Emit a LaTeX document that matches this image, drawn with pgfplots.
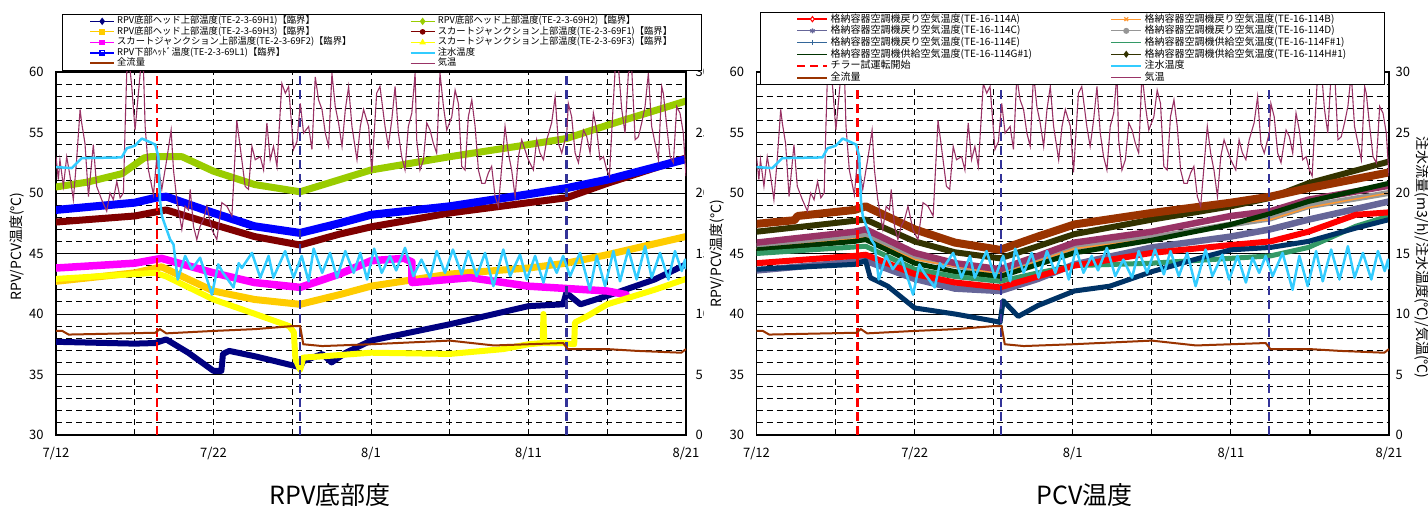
\documentclass[border=0pt]{standalone}
\usepackage{fontspec}
\setmainfont{Noto Sans CJK JP}
\usepackage{pgfplots}
\usepackage{pgfplotstable}
\pgfplotsset{compat=1.18}

\definecolor{cH1}{HTML}{000080}
\definecolor{cH2}{HTML}{99CC00}
\definecolor{cH3}{HTML}{FFCC00}
\definecolor{cF1}{HTML}{800000}
\definecolor{cF2}{HTML}{FF00FF}
\definecolor{cF3}{HTML}{FFFF00}
\definecolor{cL1}{HTML}{0000FF}
\definecolor{cInj}{HTML}{33CCFF}
\definecolor{cFlow}{HTML}{993300}
\definecolor{cAir}{HTML}{993366}
\definecolor{cDash}{HTML}{333399}
\definecolor{cA}{HTML}{FF0000}
\definecolor{cB}{HTML}{FF9933}
\definecolor{cC}{HTML}{666699}
\definecolor{cD}{HTML}{969696}
\definecolor{cE}{HTML}{003366}
\definecolor{cEl}{HTML}{336699}
\definecolor{cF}{HTML}{339966}
\definecolor{cG}{HTML}{003300}
\definecolor{cH}{HTML}{333300}
\definecolor{cRust}{HTML}{993300}
\definecolor{cMauve}{HTML}{993366}

% shared right-axis series (day from 7/12, value)
\pgfplotstableread{
d v
0 23.0
0.15 21.1
0.25 22.75
0.47 20.55
0.68 23.0
0.89 21.4
1.10 19.45
1.31 22.75
1.53 26.9
1.63 25.8
1.84 24.1
1.95 21.9
2.06 19.7
2.37 24.0
2.58 20.55
2.90 19.45
3.22 18.5
3.43 20.0
3.64 19.45
3.86 20.95
4.07 19.6
4.28 20.0
4.39 25.5
4.49 29.9
4.64 31
4.81 28.8
5.02 25.2
5.23 28.2
5.38 30.4
5.55 30.4
5.66 25.5
5.87 21.9
6.19 19.85
6.40 23.0
6.72 20.3
7.03 22.75
7.31 25.2
7.46 21.9
7.67 19.45
7.99 17.0
8.20 18.9
8.41 18.6
8.52 20.3
8.73 17.25
8.94 16.15
9.15 17.25
9.36 17.8
9.58 18.9
9.89 17.0
10.21 16.15
10.53 19.2
10.85 18.9
11.17 18.1
11.48 26.0
11.69 23.85
12.01 20.55
12.22 20.3
12.44 23.85
12.65 22.75
12.97 23.0
13.18 21.9
13.39 25.8
13.60 22.75
13.81 23.85
14.03 22.2
14.34 29.05
14.56 28.25
14.77 28.8
15.08 23.6
15.30 24.25
15.51 27.4
15.72 24.95
16.04 25.5
16.25 23.6
16.46 29.6
16.67 27.7
16.89 26.9
17.10 24.95
17.31 23.85
17.52 29.9
17.73 27.15
17.94 25.8
18.16 23.85
18.37 26.9
18.58 28.8
18.79 25.5
19.11 22.75
19.32 25.5
19.53 26.9
19.85 25.5
20.05 21.7
20.36 28.25
20.57 28.8
20.89 25.5
21.10 23.85
21.32 26.05
21.53 28.8
21.74 24.95
21.95 23.0
22.16 21.9
22.37 25.5
22.59 26.6
22.80 29.9
22.90 24.4
23.11 21.9
23.33 22.75
23.54 25.8
23.75 25.2
23.96 24.1
24.17 23.3
24.38 29.9
24.60 27.15
24.81 25.2
25.13 26.3
25.34 28.5
25.55 27.4
25.76 22.2
25.97 21.9
26.18 26.3
26.40 27.7
26.61 25.5
26.82 21.9
27.03 20.8
27.24 20.8
27.45 21.65
27.66 22.2
27.88 19.7
28.09 18.9
28.30 22.2
28.51 25.5
28.72 23.3
28.93 21.9
29.15 19.7
29.36 23.0
29.57 24.4
29.78 23.55
29.99 22.75
30.31 21.9
30.52 24.4
30.73 23.3
30.95 22.75
31.16 24.4
31.47 25.8
31.69 27.95
31.90 24.1
32.11 23.3
32.43 24.95
32.53 27.4
32.74 26.3
32.96 23.3
33.17 22.5
33.49 25.2
33.70 24.65
33.91 23.3
34.12 26.6
34.33 25.2
34.54 22.75
34.76 23.0
34.97 21.9
35.14 21.4
35.28 24.95
35.50 30.2
35.71 30.4
35.92 26.9
36.13 24.95
36.34 29.9
36.55 30.4
36.77 24.4
36.98 24.65
37.19 25.8
37.40 27.15
37.61 29.9
37.82 25.5
38.04 24.1
38.25 22.75
38.46 28.8
38.56 28.25
38.78 25.5
38.99 23.0
39.20 22.5
39.41 27.15
39.62 26.6
39.83 24.95
40.00 21.4
}\airtemp

\pgfplotstableread{
d v
0 22.14
1.0 22.06
1.63 22.88
4.17 22.94
4.5 23.7
5.0 23.9
5.45 24.5
5.97 24.2
6.3 24.0
6.5 23.0
6.6 19.45
6.72 18.1
7.25 16.15
7.46 15.75
7.73 12.85
8.2 14.8
8.62 13.7
9.15 14.65
9.9 11.6
10.3 14.1
10.6 13.4
11.27 12.2
11.6 14.2
11.8 13.8
12.44 15.05
12.97 13.0
13.5 14.8
13.8 13.0
14.55 15.2
15.08 13.0
15.6 14.8
16.04 12.7
16.36 15.4
16.9 13.4
17.4 15.05
17.84 13.0
18.37 15.2
18.9 13.4
19.32 15.05
19.75 12.85
20.2 15.4
20.68 13.4
21.2 14.8
21.6 13.6
22.16 15.47
22.69 13.13
23.2 14.5
23.75 13.0
24.17 15.2
24.7 13.4
25.2 15.33
25.76 13.27
26.18 15.2
26.71 13.13
27.24 15.05
27.77 12.3
28.4 15.33
28.83 13.13
29.46 14.9
29.89 12.85
30.42 14.8
30.95 12.6
31.37 14.65
31.79 13.4
32.2 14.8
32.64 13.13
33.27 15.05
33.9 12.0
34.33 14.8
34.86 12.3
35.39 15.2
35.81 12.7
36.34 15.33
36.87 12.85
37.4 15.6
37.82 13.0
38.35 15.05
38.88 12.85
39.3 15.2
39.73 13.55
39.94 14.5
40 13.7
}\injtemp

\pgfplotstableread{
d v
0 8.6
0.4 8.6
0.8 8.3
6.3 8.45
6.6 8.75
7.0 8.4
10 8.6
12.65 8.75
15.0 9.0
15.5 9.0
15.7 7.5
16.9 7.35
20 7.5
25 7.8
27.8 7.4
32.2 7.6
32.5 7.1
35 7.1
36.9 6.95
39.7 6.8
40 7.1
}\totalflow

\pgfplotsset{
  chartbase/.style={
    scale only axis, anchor=south west, height=363pt,
    xmin=0, xmax=40,
    tick label style={font=\fontsize{13}{13}\selectfont},
    /pgf/number format/assume math mode=true,
    axis line style={line width=1.2pt},
    tick align=inside, major tick length=5pt, minor tick length=5pt,
    tick style={black, line width=0.8pt},
  },
  tempaxis/.style={chartbase,
    ymin=30, ymax=60,
    xtick={0,10,20,30,40}, xticklabels={7/12,7/22,8/1,8/11,8/21},
    minor xtick={0,5,...,40},
    ytick={30,35,...,60},
    minor ytick={31,32,33,34,36,37,38,39,41,42,43,44,46,47,48,49,51,52,53,54,56,57,58,59},
    xminorgrids, ymajorgrids, yminorgrids,
    major grid style={black, line width=0.9pt},
    minor grid style={black, line width=0.9pt, dash pattern=on 6pt off 4pt},
    tick pos=left,
    xticklabel style={yshift=-9pt},
    ylabel style={anchor=center, font=\fontsize{14}{14}\selectfont},
    xlabel style={anchor=center, font=\fontsize{25}{25}\selectfont},
  },
  flowaxis/.style={chartbase,
    ymin=0, ymax=30, ytick={0,5,...,30},
    axis x line=none, axis y line*=right,
    legend columns=2, legend cell align=left,
  },
  band/.style={line width=#1, line join=round, line cap=round},
  vline/.style={line width=2.5pt, dash pattern=on 9pt off 5pt},
}

\begin{document}
\begin{tikzpicture}
\useasboundingbox (0pt,0pt) rectangle (1428pt,508pt);

% ---------------- RPV chart ----------------
\begin{axis}[tempaxis, at={(56pt,73pt)}, width=630pt,
  yticklabel style={xshift=-9pt},
  ylabel={RPV/PCV温度(℃)}, ylabel style={at={(axis description cs:-0.062,0.52)}},
  xlabel={RPV底部度}, xlabel style={at={(axis description cs:0.435,-0.165)}}]
\addplot[cH1, band=6pt] coordinates {(0,37.7)(5,37.55)(6.3,37.6)(7,37.9)(8.4,36.8)(10,35.3)(10.5,35.3)(10.6,36.7)(11,36.95)(12.65,36.5)(15.5,35.6)(15.7,36.1)(16.9,36.7)(17.5,36.0)(18.4,36.8)(20,37.8)(25,39.15)(30,40.65)(32.2,40.8)(32.4,41.75)(33.3,40.8)(35,41.5)(38,42.85)(40,44.1)};
\addplot[cH2, band=7pt] coordinates {(0,50.5)(2,50.9)(4.2,51.6)(5.6,52.9)(6,53.0)(8,53.0)(10,51.8)(12.6,50.7)(15.5,50.1)(18,51.1)(20,51.9)(25,53.0)(30,54.0)(32.4,54.5)(35,55.6)(40,57.6)};
\addplot[cH3, band=7pt] coordinates {(0,42.7)(5,43.4)(6.7,43.9)(10,41.9)(12.6,41.2)(15.5,40.8)(18,41.6)(20,42.3)(25,43.3)(30,43.8)(32.4,44.2)(35,44.9)(40,46.4)};
\addplot[cF1, band=7pt] coordinates {(0,47.6)(5,48.1)(7,48.6)(10,47.4)(12.6,46.4)(15.5,45.7)(18,46.6)(20,47.2)(25,48.35)(30,49.2)(32.4,49.6)(35,50.8)(40,52.9)};
\addplot[cF2, band=7.5pt] coordinates {(0,43.8)(5,44.2)(6.7,44.6)(10,43.4)(12.6,42.6)(15.5,42.2)(18,43.3)(20,44.4)(22.1,44.6)(22.6,44.3)(22.6,42.6)(26.3,43.0)(30,42.3)(35,41.9)(36.2,41.6)};
\addplot[cF3, band=6pt] coordinates {(0,42.9)(5,43.3)(6.3,43.4)(7,43.1)(10,41.2)(12.65,40.0)(14.8,39.0)(15.1,38.5)(15.2,36.3)(15.5,35.4)(15.7,36.4)(16.9,36.5)(20,36.8)(25,36.7)(28.4,37.1)(30,37.5)(30.9,37.6)(30.95,40.0)(31.0,37.6)(32.2,37.6)(32.9,37.5)(32.95,39.3)(33.7,39.8)(35,40.8)(38,42.0)(40,42.9)};
\addplot[cL1, band=8pt] coordinates {(0,48.6)(5,49.2)(6.3,49.6)(7,49.7)(10,48.35)(12.6,47.25)(15.5,46.7)(18,47.5)(20,48.2)(25,48.9)(30,49.9)(32.4,50.4)(35,51.1)(40,52.8)};
\addplot[red, vline] coordinates {(6.4,30)(6.4,60)};
\addplot[cDash, vline] coordinates {(15.5,30)(15.5,60)};
\addplot[cDash, vline] coordinates {(32.4,30)(32.4,60)};
\end{axis}

\begin{axis}[flowaxis, at={(56pt,73pt)}, width=630pt,
  yticklabel style={xshift=6pt},
  legend image code/.code={\draw[mark repeat=2,mark phase=2,#1] plot coordinates {(0pt,0pt) (12pt,0pt) (24pt,0pt)};},
  legend style={at={(0.0095,1.16)}, anchor=north west, draw=black, fill=white,
    font=\fontsize{9.3}{10}\selectfont, inner xsep=27pt, inner ysep=2pt, row sep=0pt,
    nodes={inner xsep=2pt, inner ysep=0pt, text height=7.8pt, text depth=2.7pt},
    /tikz/every even column/.append style={column sep=56pt}}]
\addplot[cAir, line width=1.1pt, forget plot] table[x=d, y=v] {\airtemp};
\addplot[cInj, line width=2.5pt, line join=round, forget plot] table[x=d, y=v] {\injtemp};
\addplot[cFlow, line width=2pt, forget plot] table[x=d, y=v] {\totalflow};
\addlegendimage{cH1, line width=1.2pt, mark=diamond*, mark size=2.8pt}
\addlegendentry{RPV底部ヘッド上部温度(TE-2-3-69H1)【臨界】}
\addlegendimage{cH2, line width=1.2pt, mark=diamond*, mark size=2.8pt}
\addlegendentry{RPV底部ヘッド上部温度(TE-2-3-69H2)【臨界】}
\addlegendimage{cH3, line width=1.2pt, mark=square*, mark size=2.2pt}
\addlegendentry{RPV底部ヘッド上部温度(TE-2-3-69H3)【臨界】}
\addlegendimage{cF1, line width=1.2pt, mark=*, mark size=2.2pt}
\addlegendentry{スカートジャンクション上部温度(TE-2-3-69F1)【臨界】}
\addlegendimage{cF2, line width=1.2pt, mark=square*, mark size=2.2pt}
\addlegendentry{スカートジャンクション上部温度(TE-2-3-69F2)【臨界】}
\addlegendimage{cF3, line width=1.2pt, mark=triangle*, mark size=2.6pt}
\addlegendentry{スカートジャンクション上部温度(TE-2-3-69F3)【臨界】}
\addlegendimage{cL1, line width=1.6pt, mark=square, mark size=2.4pt, mark options={fill=white}}
\addlegendentry{RPV下部ﾍｯﾄﾞ温度(TE-2-3-69L1)【臨界】}
\addlegendimage{cInj, line width=2.5pt}
\addlegendentry{注水温度}
\addlegendimage{cFlow, line width=2pt}
\addlegendentry{全流量}
\addlegendimage{cAir, line width=1.1pt}
\addlegendentry{気温}
\end{axis}

\fill[white] (704pt,68pt) rectangle (712pt,446pt);

% ---------------- PCV chart ----------------
\begin{axis}[tempaxis, at={(756.5pt,73pt)}, width=632.5pt,
  yticklabel style={xshift=-9pt},
  ylabel={RPV/PCV温度(℃)}, ylabel style={at={(axis description cs:-0.062,0.5)}},
  xlabel={PCV温度}, xlabel style={at={(axis description cs:0.519,-0.165)}}]
\addplot[cC, band=6.5pt] coordinates {(0,43.6)(6.9,44.4)(10,42.9)(12.55,42.1)(15.4,41.9)(17.8,42.9)(20.1,44.1)(25,45.5)(30,46.4)(32.5,47.0)(34.9,47.8)(40,49.3)};
\addplot[cD, band=6pt] coordinates {(0,45.6)(6.9,46.6)(10,44.7)(15.4,43.3)(20.1,45.5)(25,46.3)(30,47.4)(32.5,47.9)(34.9,48.9)(40,50.0)};
\addplot[cB, band=1.5pt] coordinates {(0,45.4)(6.9,46.3)(10,44.5)(15.4,43.3)(20.1,45.4)(25,46.2)(30,47.5)(32.5,47.8)(34.9,48.8)(40,50.0)};
\addplot[cMauve, band=6.5pt] coordinates {(0,45.9)(6.2,46.8)(6.9,47.0)(10,45.05)(12.55,44.2)(15.4,43.7)(17.8,44.8)(20.1,45.9)(25,46.8)(30,48.1)(32.5,48.5)(34.9,49.45)(40,50.6)};
\addplot[cG, band=5pt] coordinates {(0,45.3)(6.2,46.0)(6.9,46.15)(10,44.2)(12.55,43.5)(15.4,43.1)(20.1,45.05)(25,46.1)(30,47.4)(32.5,48.3)(34.9,49.3)(40,50.8)};
\addplot[cF, band=5pt] coordinates {(0,45.0)(6.9,45.6)(10,43.7)(12.55,43.1)(15.4,42.7)(17.8,43.4)(20.1,44.0)(25,44.2)(30,44.6)(32.5,44.8)(34.9,45.5)(37.9,47.25)(40,48.1)};
\addplot[cA, band=6pt] coordinates {(0,44.2)(6.2,44.8)(6.9,44.9)(10,43.3)(12.55,42.6)(15.4,42.2)(17.8,43.1)(20.1,44.0)(25,45.05)(30,45.7)(32.5,46.0)(34.9,46.8)(37.9,48.2)(40,48.4)};
\addplot[cE, band=5pt] coordinates {(0,43.7)(6.2,44.1)(6.9,44.4)(7.2,43.0)(8.3,42.3)(10,40.5)(12.55,40.0)(15.1,39.4)(15.4,39.3)(15.6,41.1)(16.55,39.8)(17.8,40.7)(20.1,41.9)(22.35,42.3)(25,43.5)(28.25,44.7)(30,45.3)(32.5,45.5)(34.9,46.0)(37.9,47.1)(40,47.8)};
\addplot[cH, band=6pt] coordinates {(0,46.8)(6.2,47.7)(6.9,47.8)(10,46.0)(12.55,45.1)(15.4,44.6)(17.8,45.6)(20.1,46.6)(25,47.8)(30,48.9)(32.5,49.6)(34.9,50.8)(40,52.6)};
\addplot[cRust, band=8pt] coordinates {(0,47.45)(2.4,47.75)(2.6,48.1)(6.2,48.6)(6.9,48.9)(10,47.0)(12.55,45.9)(15.4,45.3)(17.8,46.4)(20.1,47.4)(25,48.35)(30,49.2)(32.5,49.7)(34.9,50.4)(40,51.7)};
\addplot[red, vline] coordinates {(6.4,30)(6.4,60)};
\addplot[cDash, vline] coordinates {(15.46,30)(15.46,60)};
\addplot[cDash, vline] coordinates {(32.4,30)(32.4,60)};
\end{axis}

\begin{axis}[flowaxis, at={(756.5pt,73pt)}, width=632.5pt,
  yticklabel style={xshift=3pt},
  ylabel={注水流量(m3/h)/注水温度(℃)/気温(℃)},
  ylabel style={at={(axis description cs:1.052,0.489)}, anchor=center, rotate=180, font=\fontsize{14}{14}\selectfont},
  legend image code/.code={\draw[mark repeat=2,mark phase=2,#1] plot coordinates {(0pt,0pt) (15pt,0pt) (30pt,0pt)};},
  legend style={at={(0.0055,1.165)}, anchor=north west, draw=black, fill=white,
    font=\fontsize{10}{10}\selectfont, inner xsep=36pt, inner ysep=1pt, row sep=0pt,
    nodes={inner xsep=2pt, inner ysep=0pt, text height=8.7pt, text depth=3pt},
    /tikz/every even column/.append style={column sep=76pt}}]
\addplot[cAir, line width=1.1pt, forget plot] table[x=d, y=v] {\airtemp};
\addplot[cInj, line width=2.5pt, line join=round, forget plot] table[x=d, y=v] {\injtemp};
\addplot[cFlow, line width=2pt, forget plot] table[x=d, y=v] {\totalflow};
\addlegendimage{cA, line width=2pt, mark=diamond*, mark size=2.6pt, mark options={fill=white, line width=1pt}}
\addlegendentry{格納容器空調機戻り空気温度(TE-16-114A)}
\addlegendimage{cB, line width=1.2pt, mark=x, mark size=2.6pt}
\addlegendentry{格納容器空調機戻り空気温度(TE-16-114B)}
\addlegendimage{cC, line width=1.2pt, mark=asterisk, mark size=2.6pt}
\addlegendentry{格納容器空調機戻り空気温度(TE-16-114C)}
\addlegendimage{cD, line width=1.2pt, mark=*, mark size=2.4pt}
\addlegendentry{格納容器空調機戻り空気温度(TE-16-114D)}
\addlegendimage{cEl, line width=1.2pt, mark=+, mark size=2.8pt}
\addlegendentry{格納容器空調機戻り空気温度(TE-16-114E)}
\addlegendimage{cF, line width=1.2pt, mark=-, mark size=2pt}
\addlegendentry{格納容器空調機供給空気温度(TE-16-114F\#1)}
\addlegendimage{cG, line width=1.2pt, mark=-, mark size=2pt}
\addlegendentry{格納容器空調機供給空気温度(TE-16-114G\#1)}
\addlegendimage{cH, line width=1.2pt, mark=diamond*, mark size=2.6pt}
\addlegendentry{格納容器空調機供給空気温度(TE-16-114H\#1)}
\addlegendimage{red, line width=2.5pt, dash pattern=on 8pt off 5pt}
\addlegendentry{チラー試運転開始}
\addlegendimage{cInj, line width=2.5pt}
\addlegendentry{注水温度}
\addlegendimage{cFlow, line width=2pt}
\addlegendentry{全流量}
\addlegendimage{cAir, line width=1.1pt}
\addlegendentry{気温}
\end{axis}
\end{tikzpicture}
\end{document}
